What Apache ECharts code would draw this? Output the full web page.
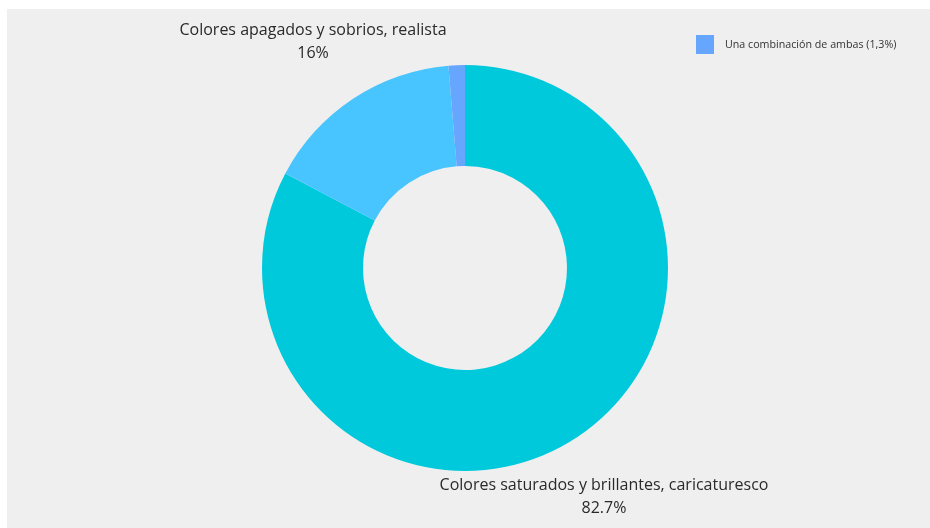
<!DOCTYPE html>
<html>
<head>
<meta charset="utf-8">
<script src="https://cdn.jsdelivr.net/npm/echarts@6/dist/echarts.min.js"></script>
<style>
  html, body { margin: 0; padding: 0; background: #ffffff; }
  #chart { position: absolute; left: 7px; top: 9px; width: 923px; height: 519px; }
</style>
</head>
<body>
<div id="chart"></div>
<script>
// Survey answers: preferred colour style
const categories = [
  'Colores saturados y brillantes, caricaturesco',
  'Colores apagados y sobrios, realista',
  'Una combinación de ambas (1,3%)'
];
const shares = [82.7, 16, 1.3];
const sliceColors = ['#00c9dc', '#48c4fe', '#66a6ff'];
const legendItems = ['Una combinación de ambas (1,3%)'];

// Where each outside label block is centred (null = no label)
const labelSpots = [[597, 487.5], [306, 32.5], null];

const chart = echarts.init(document.getElementById('chart'));

chart.setOption({
  backgroundColor: '#efefef',
  animation: false,
  textStyle: { fontFamily: 'Open Sans' },
  legend: {
    data: legendItems,
    left: 684,
    top: 21,
    orient: 'vertical',
    icon: 'rect',
    itemWidth: 18,
    itemHeight: 19,
    itemGap: 10,
    textStyle: { fontFamily: 'Open Sans', fontSize: 10.7, color: '#333333', padding: [0, 0, 0, 6] }
  },
  series: [{
    type: 'pie',
    center: [458, 259],
    radius: [102, 203],
    startAngle: 90,
    clockwise: true,
    avoidLabelOverlap: false,
    itemStyle: { borderWidth: 0 },
    label: {
      show: true,
      position: 'outside',
      formatter: '{b}\n{c}%',
      fontFamily: 'Open Sans',
      fontSize: 16,
      lineHeight: 23,
      color: '#2a2a2a',
      align: 'center'
    },
    labelLine: { show: false },
    labelLayout: function (params) {
      const spot = labelSpots[params.dataIndex];
      if (!spot) return {};
      return { x: spot[0], y: spot[1], align: 'center', verticalAlign: 'middle' };
    },
    emphasis: { disabled: true },
    data: categories.map(function (name, i) {
      return {
        name: name,
        value: shares[i],
        itemStyle: { color: sliceColors[i] },
        label: { show: labelSpots[i] !== null }
      };
    })
  }]
});
</script>
</body>
</html>
